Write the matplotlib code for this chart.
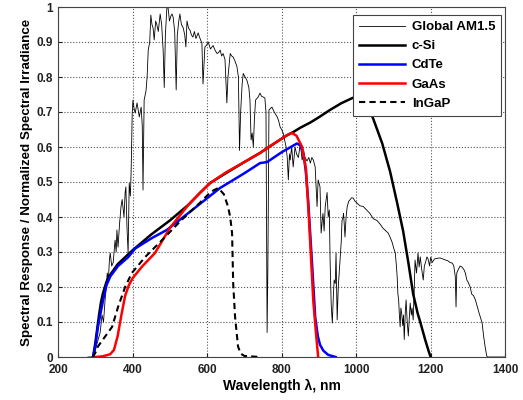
import matplotlib
matplotlib.use("Agg")
import matplotlib.pyplot as plt

plt.rcParams['font.family'] = ['Liberation Sans', 'DejaVu Sans']
plt.rcParams['font.weight'] = 'bold'

# Global AM1.5 spectrum (normalized)
am15 = [(280, 0), (290, 0), (295, 0.005), (300, 0.02), (305, 0.04), (313, 0.07), (318, 0.12), (322, 0.1),
        (326, 0.16), (329, 0.2), (332, 0.24), (335, 0.22), (338, 0.28), (340, 0.297), (344, 0.26), (348, 0.27),
        (353, 0.334), (356, 0.30), (358, 0.363), (361, 0.314), (365, 0.38), (369, 0.43), (372, 0.45), (377, 0.40),
        (380, 0.47), (382, 0.486), (385, 0.37), (388, 0.297), (391, 0.497), (394, 0.46), (396, 0.525), (399, 0.697),
        (401, 0.734), (404, 0.71), (407, 0.697), (412, 0.726), (418, 0.686), (423, 0.714), (426, 0.66), (428, 0.477),
        (431, 0.734), (436, 0.76), (439, 0.80), (442, 0.877), (446, 0.90), (449, 0.977), (452, 0.95), (455, 0.94),
        (458, 0.906), (462, 0.96), (465, 0.95), (469, 0.93), (474, 0.98), (478, 0.95), (482, 0.877), (485, 0.77),
        (488, 0.92), (492, 0.997), (495, 1.0), (499, 0.96), (503, 0.975), (506, 0.98), (509, 0.97), (513, 0.93),
        (517, 0.763), (520, 0.92), (524, 0.96), (527, 0.98), (531, 0.95), (536, 0.94), (540, 0.92), (543, 0.886),
        (546, 0.96), (550, 0.94), (554, 0.934), (558, 0.92), (562, 0.914), (566, 0.93), (570, 0.91), (576, 0.926),
        (581, 0.91), (586, 0.897), (589, 0.78), (594, 0.886), (598, 0.89), (603, 0.90), (609, 0.88), (616, 0.89),
        (622, 0.875), (627, 0.867), (631, 0.87), (635, 0.877), (639, 0.86), (643, 0.867), (648, 0.85), (653, 0.726),
        (656, 0.80), (662, 0.867), (666, 0.86), (670, 0.857), (675, 0.845), (680, 0.83), (684, 0.80), (687, 0.59),
        (690, 0.70), (694, 0.78), (697, 0.81), (702, 0.80), (707, 0.79), (712, 0.77), (715, 0.734), (718, 0.62),
        (721, 0.64), (724, 0.60), (727, 0.68), (730, 0.734), (737, 0.743), (742, 0.754), (746, 0.745), (750, 0.743),
        (755, 0.74), (758, 0.70), (760, 0.30), (761, 0.07), (763, 0.25), (766, 0.706), (770, 0.71), (774, 0.714),
        (780, 0.70), (788, 0.686), (792, 0.675), (796, 0.657), (800, 0.65), (804, 0.64), (808, 0.62), (812, 0.60),
        (815, 0.57), (818, 0.506), (821, 0.58), (823, 0.563), (827, 0.60), (831, 0.543), (836, 0.60), (840, 0.58),
        (845, 0.57), (850, 0.61), (855, 0.563), (859, 0.58), (863, 0.57), (868, 0.56), (873, 0.57), (877, 0.554),
        (881, 0.57), (885, 0.563), (890, 0.543), (895, 0.43), (898, 0.506), (903, 0.486), (906, 0.354), (909, 0.39),
        (911, 0.41), (914, 0.36), (917, 0.43), (922, 0.47), (925, 0.40), (928, 0.42), (930, 0.277), (933, 0.15),
        (936, 0.097), (939, 0.18), (941, 0.22), (944, 0.21), (946, 0.297), (949, 0.106), (952, 0.20), (955, 0.25),
        (957, 0.286), (960, 0.33), (962, 0.39), (965, 0.40), (966, 0.41), (968, 0.38), (970, 0.343), (973, 0.40),
        (976, 0.43), (980, 0.445), (984, 0.45), (988, 0.455), (992, 0.454), (997, 0.445), (1002, 0.44),
        (1010, 0.432), (1019, 0.43), (1028, 0.42), (1037, 0.41), (1046, 0.395), (1056, 0.39), (1064, 0.38),
        (1072, 0.368), (1080, 0.36), (1086, 0.354), (1092, 0.34), (1097, 0.326), (1101, 0.31), (1105, 0.297),
        (1108, 0.26), (1110, 0.23), (1112, 0.18), (1114, 0.163), (1116, 0.12), (1118, 0.086), (1120, 0.14),
        (1122, 0.126), (1125, 0.09), (1127, 0.12), (1129, 0.05), (1132, 0.13), (1134, 0.163), (1137, 0.10),
        (1140, 0.06), (1143, 0.12), (1145, 0.154), (1148, 0.12), (1150, 0.14), (1153, 0.106), (1156, 0.20),
        (1158, 0.277), (1162, 0.24), (1166, 0.297), (1169, 0.257), (1172, 0.286), (1176, 0.25), (1180, 0.22),
        (1183, 0.26), (1186, 0.27), (1190, 0.286), (1193, 0.28), (1197, 0.26), (1200, 0.285), (1204, 0.27),
        (1210, 0.28), (1217, 0.282), (1225, 0.283), (1233, 0.28), (1240, 0.277), (1246, 0.275), (1252, 0.27),
        (1258, 0.268), (1262, 0.26), (1266, 0.23), (1268, 0.143), (1270, 0.24), (1274, 0.25), (1279, 0.26),
        (1284, 0.257), (1289, 0.25), (1293, 0.24), (1297, 0.22), (1300, 0.215), (1306, 0.20), (1310, 0.18),
        (1315, 0.175), (1320, 0.163), (1326, 0.14), (1330, 0.125), (1333, 0.115), (1338, 0.097), (1342, 0.06),
        (1346, 0.03), (1350, 0.005), (1352, 0), (1400, 0)]
am15_wl = [p[0] for p in am15]
am15_val = [p[1] for p in am15]

# spectral responses
csi_wl = [294, 300, 305, 310, 315, 320, 330, 340, 350, 360, 380, 400, 450, 475, 500, 550, 580, 608, 650, 700,
          742, 780, 815, 830, 850, 877, 900, 930, 960, 990, 1010, 1030, 1046, 1070, 1091, 1110, 1126, 1140,
          1153, 1165, 1172, 1185, 1195, 1200]
csi = [0, 0.04, 0.08, 0.12, 0.155, 0.18, 0.215, 0.235, 0.25, 0.265, 0.285, 0.305, 0.35, 0.37, 0.39, 0.435,
       0.468, 0.497, 0.525, 0.557, 0.583, 0.61, 0.634, 0.642, 0.655, 0.67, 0.685, 0.706, 0.725, 0.74, 0.745,
       0.72, 0.68, 0.61, 0.53, 0.44, 0.36, 0.27, 0.18, 0.125, 0.10, 0.05, 0.015, 0]

cdte_wl = [294, 300, 307, 315, 321, 330, 340, 361, 388, 407, 452, 492, 560, 635, 700, 742, 761, 800, 841,
           850, 858, 865, 871, 882, 890, 897, 903, 912, 925, 945]
cdte = [0, 0.03, 0.086, 0.13, 0.163, 0.205, 0.23, 0.26, 0.285, 0.31, 0.34, 0.363, 0.42, 0.483, 0.525, 0.554,
        0.557, 0.585, 0.61, 0.605, 0.585, 0.53, 0.45, 0.26, 0.115, 0.06, 0.035, 0.018, 0.006, 0]

gaas_wl = [300, 320, 340, 350, 360, 370, 380, 390, 400, 425, 460, 501, 550, 580, 608, 650, 700, 742, 780, 815,
           828, 840, 855, 865, 872, 878, 885, 892, 898]
gaas = [0, 0.002, 0.008, 0.02, 0.06, 0.12, 0.175, 0.205, 0.225, 0.258, 0.297, 0.37, 0.435, 0.468, 0.497, 0.527,
        0.557, 0.583, 0.61, 0.634, 0.64, 0.632, 0.60, 0.54, 0.42, 0.30, 0.16, 0.07, 0]

ingap_wl = [293, 300, 307, 326, 345, 361, 380, 398, 434, 479, 530, 580, 610, 630, 645, 656, 662, 667, 670, 675,
            683, 690, 700, 742]
ingap = [0, 0.012, 0.03, 0.058, 0.086, 0.143, 0.2, 0.24, 0.286, 0.334, 0.39, 0.44, 0.472, 0.483, 0.465, 0.43,
         0.40, 0.354, 0.21, 0.115, 0.03, 0.01, 0.003, 0]

fig = plt.figure(figsize=(5.23, 4.0), dpi=100)
ax = fig.add_axes([0.111, 0.1075, 0.855, 0.875])

ax.plot(am15_wl, am15_val, color='black', lw=0.6, label='Global AM1.5')
ax.plot(csi_wl, csi, color='black', lw=1.8, label='c-Si')
ax.plot(cdte_wl, cdte, color='blue', lw=1.8, label='CdTe')
ax.plot(gaas_wl, gaas, color='red', lw=1.8, label='GaAs')
ax.plot(ingap_wl, ingap, color='black', lw=1.5, ls='--', dashes=(3, 2), label='InGaP')

ax.set_xlim(200, 1400)
ax.set_ylim(0, 1)
ax.set_xticks(range(200, 1401, 200))
ax.set_yticks([i / 10 for i in range(11)])
ax.set_yticklabels(['0', '0.1', '0.2', '0.3', '0.4', '0.5', '0.6', '0.7', '0.8', '0.9', '1'])
ax.grid(True, ls=':', color='#555555', lw=0.8)
ax.tick_params(direction='in', labelsize=8.5, length=3, colors='#222222')
ax.tick_params(axis='x', pad=5)
for s in ax.spines.values():
    s.set_color('#444444')

ax.set_xlabel('Wavelength λ, nm', fontsize=10, fontweight='bold', labelpad=2)
ax.set_ylabel('Spectral Response / Normalized Spectral Irradiance', fontsize=9.6, fontweight='bold', labelpad=3)

leg = ax.legend(loc='upper right', bbox_to_anchor=(0.991, 0.977), borderaxespad=0, fancybox=False,
                framealpha=1, edgecolor='#444444', handlelength=3.5, handletextpad=0.5, labelspacing=0.52,
                borderpad=0.45, prop={'weight': 'bold', 'size': 9.5})
leg.get_frame().set_linewidth(0.8)

fig.savefig('out.png', dpi=100)
